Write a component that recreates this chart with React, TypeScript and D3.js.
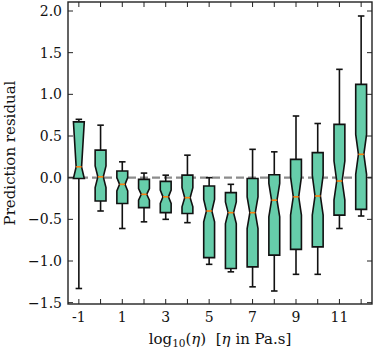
import React, { useEffect, useRef } from "react";
import * as d3 from "d3";

// log10 viscosity bins
const positions = [-1, 0, 1, 2, 3, 4, 5, 6, 7, 8, 9, 10, 11, 12];
const whiskerLow = [-1.33, -0.4, -0.61, -0.53, -0.5, -0.54, -1.04, -1.13, -1.31, -1.36, -1.16, -1.16, -0.61, -0.46];
const q1 = [-0.01, -0.28, -0.31, -0.36, -0.42, -0.43, -0.96, -1.09, -1.07, -0.93, -0.86, -0.83, -0.45, -0.38];
const medians = [0.13, 0.01, -0.08, -0.2, -0.23, -0.24, -0.4, -0.42, -0.42, -0.27, -0.23, -0.22, -0.04, 0.28];
const q3 = [0.67, 0.33, 0.08, -0.02, -0.045, 0.03, -0.1, -0.18, -0.01, 0.035, 0.22, 0.3, 0.64, 1.12];
const whiskerHigh = [0.7, 0.63, 0.19, 0.055, 0.03, 0.27, 0.0, -0.08, 0.34, 0.31, 0.74, 0.65, 1.3, 1.94];
const notchLow = [-0.01, -0.12, -0.16, -0.27, -0.31, -0.35, -0.53, -0.55, -0.61, -0.47, -0.45, -0.45, -0.27, 0.04];
const notchHigh = [0.67, 0.14, 0, -0.13, -0.15, -0.12, -0.26, -0.29, -0.23, -0.07, 0.01, 0.03, 0.2, 0.52];

const yTicks = [-1.5, -1.0, -0.5, 0.0, 0.5, 1.0, 1.5, 2.0];
const xLabelTicks = [-1, 1, 3, 5, 7, 9, 11];

const App = () => {
  const ref = useRef(null);

  useEffect(() => {
    document.body.style.margin = "0";
    draw();
  }, []);

  const draw = () => {
    const W = 374;
    const H = 351;
    const m = { top: 2, right: 2, bottom: 47, left: 68 };

    const svg = d3.select(ref.current).attr("width", W).attr("height", H);
    svg.selectAll("*").remove();

    const x = d3.scaleLinear().domain([-1.5, 12.5]).range([m.left, W - m.right]);
    const y = d3.scaleLinear().domain([-1.516, 2.108]).range([H - m.bottom, m.top]);

    const font = "'DejaVu Serif', serif";
    const hw = 0.25; // half box width (data units)

    // zero reference line
    svg
      .append("line")
      .attr("x1", x(-1.5))
      .attr("x2", x(12.5))
      .attr("y1", y(0))
      .attr("y2", y(0))
      .attr("stroke", "#8c8c8c")
      .attr("stroke-width", 2.2)
      .attr("stroke-dasharray", "8,4");

    const line = d3
      .line()
      .x((d) => x(d[0]))
      .y((d) => y(d[1]));

    const boxes = svg.append("g");

    positions.forEach((p, i) => {
      const lo = Math.max(notchLow[i], q1[i]);
      const hi = Math.min(notchHigh[i], q3[i]);
      const g = boxes.append("g");

      // whiskers
      g.append("line")
        .attr("x1", x(p)).attr("x2", x(p))
        .attr("y1", y(q1[i])).attr("y2", y(whiskerLow[i]))
        .attr("stroke", "#111").attr("stroke-width", 1.6);
      g.append("line")
        .attr("x1", x(p)).attr("x2", x(p))
        .attr("y1", y(q3[i])).attr("y2", y(whiskerHigh[i]))
        .attr("stroke", "#111").attr("stroke-width", 1.6);
      [whiskerLow[i], whiskerHigh[i]].forEach((v) => {
        g.append("line")
          .attr("x1", x(p - 0.15)).attr("x2", x(p + 0.15))
          .attr("y1", y(v)).attr("y2", y(v))
          .attr("stroke", "#111").attr("stroke-width", 1.6);
      });

      // notched box
      const pts = [
        [p - hw, q1[i]],
        [p - hw, lo],
        [p - hw / 2, medians[i]],
        [p - hw, hi],
        [p - hw, q3[i]],
        [p + hw, q3[i]],
        [p + hw, hi],
        [p + hw / 2, medians[i]],
        [p + hw, lo],
        [p + hw, q1[i]],
      ];
      g.append("path")
        .attr("d", line(pts) + "Z")
        .attr("fill", "#66cdaa")
        .attr("stroke", "#111")
        .attr("stroke-width", 1.6)
        .attr("stroke-linejoin", "miter");

      g.append("line")
        .attr("x1", x(p - hw / 2)).attr("x2", x(p + hw / 2))
        .attr("y1", y(medians[i])).attr("y2", y(medians[i]))
        .attr("stroke", "#ff7f0e").attr("stroke-width", 1.6);
    });

    // ticks (inward, all four sides)
    const tk = svg.append("g").attr("stroke", "#222").attr("stroke-width", 1);
    positions.forEach((p) => {
      tk.append("line").attr("x1", x(p)).attr("x2", x(p)).attr("y1", y.range()[0]).attr("y2", y.range()[0] - 5);
      tk.append("line").attr("x1", x(p)).attr("x2", x(p)).attr("y1", y.range()[1]).attr("y2", y.range()[1] + 5);
    });
    yTicks.forEach((v) => {
      tk.append("line").attr("x1", x.range()[0]).attr("x2", x.range()[0] + 5).attr("y1", y(v)).attr("y2", y(v));
      tk.append("line").attr("x1", x.range()[1]).attr("x2", x.range()[1] - 5).attr("y1", y(v)).attr("y2", y(v));
    });

    // frame
    svg
      .append("rect")
      .attr("x", x.range()[0])
      .attr("y", y.range()[1])
      .attr("width", x.range()[1] - x.range()[0])
      .attr("height", y.range()[0] - y.range()[1])
      .attr("fill", "none")
      .attr("stroke", "#222")
      .attr("stroke-width", 1.4);

    // tick labels
    const fmt = (v) => d3.format(".1f")(v).replace("-", "\u2212");
    yTicks.forEach((v) => {
      svg
        .append("text")
        .attr("x", x.range()[0] - 6)
        .attr("y", y(v))
        .attr("dy", "0.36em")
        .attr("text-anchor", "end")
        .attr("font-family", font)
        .attr("font-size", 14)
        .attr("fill", "#111")
        .text(fmt(v));
    });
    xLabelTicks.forEach((v) => {
      svg
        .append("text")
        .attr("x", x(v))
        .attr("y", 322)
        .attr("text-anchor", "middle")
        .attr("font-family", font)
        .attr("font-size", 14)
        .attr("fill", "#111")
        .text(v < 0 ? "-" + Math.abs(v) : String(v));
    });

    // axis titles
    const xl = svg
      .append("text")
      .attr("x", (x.range()[0] + x.range()[1]) / 2)
      .attr("y", 344)
      .attr("text-anchor", "middle")
      .attr("font-family", font)
      .attr("font-size", 15)
      .attr("fill", "#111");
    xl.append("tspan").text("log");
    xl.append("tspan").attr("font-size", 10.5).attr("dy", 3).text("10");
    xl.append("tspan").attr("dy", -3).text("(");
    xl.append("tspan").attr("font-style", "italic").text("\u03b7");
    xl.append("tspan").text(")\u00a0\u00a0[");
    xl.append("tspan").attr("font-style", "italic").text("\u03b7");
    xl.append("tspan").text(" in Pa.s]");

    svg
      .append("text")
      .attr("transform", `translate(15,${(y.range()[0] + y.range()[1]) / 2}) rotate(-90)`)
      .attr("text-anchor", "middle")
      .attr("font-family", font)
      .attr("font-size", 15)
      .attr("fill", "#111")
      .text("Prediction residual");
  };

  return <svg ref={ref} style={{ display: "block" }}></svg>;
};

export default App;
